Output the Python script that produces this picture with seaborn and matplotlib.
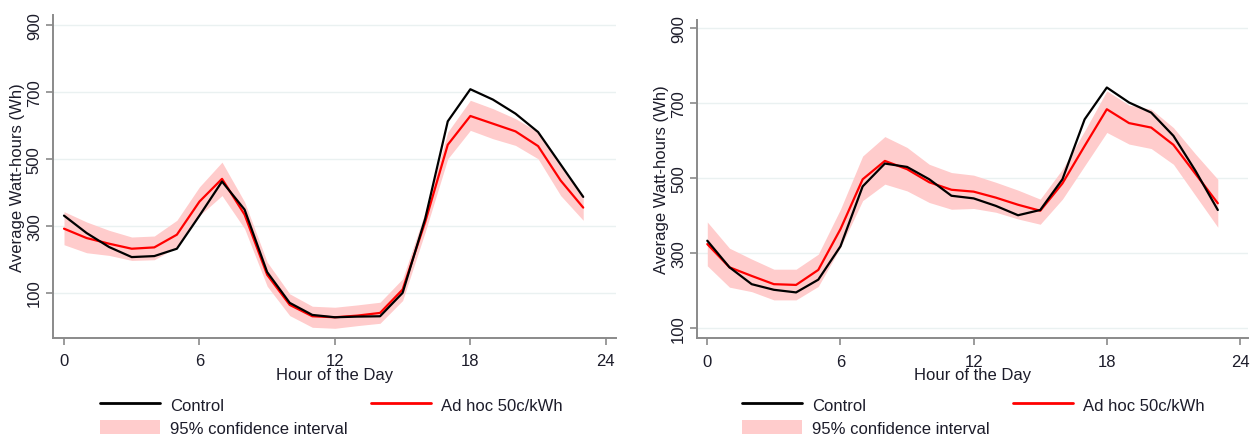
import numpy as np
import pandas as pd
import matplotlib
matplotlib.use("Agg")
import matplotlib.pyplot as plt
import seaborn as sns
from matplotlib.lines import Line2D
from matplotlib.patches import Patch

hours = list(range(24))

# Left panel
left_control = [330, 278, 236, 206, 209, 231, 330, 432, 348, 161, 69, 33, 26, 28, 29, 99,
                321, 612, 708, 677, 635, 580, 483, 386]
left_adhoc = [291, 263, 246, 231, 235, 273, 372, 440, 333, 153, 63, 29, 26, 31, 39, 109,
              311, 542, 628, 605, 582, 538, 435, 354]
left_ci_low = [243, 219, 211, 196, 198, 236, 330, 390, 291, 119, 31, -4, -7, 1, 8, 76,
               281, 500, 585, 560, 540, 500, 390, 316]
left_ci_high = [342, 311, 286, 266, 269, 316, 416, 490, 371, 191, 96, 59, 56, 63, 71, 141,
                341, 580, 675, 650, 620, 580, 480, 392]

# Right panel
right_control = [333, 262, 217, 202, 195, 229, 318, 478, 539, 530, 497, 453, 446, 426, 401, 415,
                 497, 657, 742, 702, 675, 613, 519, 415]
right_adhoc = [324, 262, 239, 217, 215, 255, 364, 497, 546, 524, 489, 469, 464, 448, 429, 413,
               486, 586, 684, 647, 635, 589, 511, 433]
right_ci_low = [266, 209, 197, 175, 175, 211, 315, 440, 484, 466, 435, 417, 419, 409, 391, 377,
                444, 533, 622, 591, 579, 537, 453, 369]
right_ci_high = [383, 313, 284, 257, 257, 297, 417, 559, 611, 582, 537, 515, 508, 489, 468, 444,
                 524, 626, 733, 695, 684, 635, 564, 497]

x_ticks = [0, 6, 12, 18, 24]
y_ticks = [100, 300, 500, 700, 900]
series_names = ["Control", "Ad hoc 50c/kWh"]
ci_label = "95% confidence interval"

sns.set_theme(style="white")
plt.rcParams["font.family"] = ["Liberation Sans", "DejaVu Sans"]

TEXT = "#1c1c2a"
SPINE = "#8a8a8a"
GRID = "#eaf1f1"
CI_COLOR = "#ffcccc"

fig = plt.figure(figsize=(12.5, 4.39), dpi=100)

panels = [
    dict(rect=[53/1250, 1-339/439, (615.5-53)/1250, (339-16)/439],
         xlim=(-0.487, 24.43), ylim=(-36, 930),
         ctrl=left_control, adhoc=left_adhoc, lo=left_ci_low, hi=left_ci_high,
         legx=100/1250, ylab_x=-0.05),
    dict(rect=[697.3/1250, 1-339.3/439, (1248-697.3)/1250, (339.3-20.7)/439],
         xlim=(-0.45, 24.36), ylim=(72.5, 923),
         ctrl=right_control, adhoc=right_adhoc, lo=right_ci_low, hi=right_ci_high,
         legx=742/1250, ylab_x=-0.051),
]

for p in panels:
    ax = fig.add_axes(p["rect"])
    for yt in y_ticks:
        ax.axhline(yt, color=GRID, lw=1.0, zorder=0)
    ax.fill_between(hours, p["lo"], p["hi"], color=CI_COLOR, lw=0, zorder=1)
    df = pd.DataFrame({"hour": hours * 2,
                       "wh": p["ctrl"] + p["adhoc"],
                       "group": [series_names[0]] * 24 + [series_names[1]] * 24})
    sns.lineplot(data=df, x="hour", y="wh", hue="group",
                 palette={series_names[0]: "black", series_names[1]: "#ff0000"},
                 hue_order=series_names[::-1], linewidth=1.6, ax=ax, legend=False, zorder=3)
    ax.set_xlim(*p["xlim"])
    ax.set_ylim(*p["ylim"])
    ax.set_xticks(x_ticks)
    ax.set_yticks(y_ticks)
    ax.set_yticklabels([str(v) for v in y_ticks], rotation=90, va="center")
    ax.tick_params(axis="both", direction="out", length=5, width=1.2, color=SPINE,
                   labelsize=12, labelcolor=TEXT, pad=3, left=True, bottom=True)
    ax.tick_params(axis="x", pad=6)
    for s in ["top", "right"]:
        ax.spines[s].set_visible(False)
    for s in ["left", "bottom"]:
        ax.spines[s].set_color(SPINE)
        ax.spines[s].set_linewidth(1.4)
    ax.set_xlabel("Hour of the Day", fontsize=12, color=TEXT, labelpad=-1)
    ax.set_ylabel("Average Watt-hours (Wh)", fontsize=12, color=TEXT)
    ax.yaxis.set_label_coords(p["ylab_x"], 0.5)

    handles = [Line2D([], [], color="black", lw=2),
               Patch(facecolor=CI_COLOR, edgecolor="none"),
               Line2D([], [], color="#ff0000", lw=2)]
    labels = [series_names[0], ci_label, series_names[1]]
    leg = fig.legend(handles, labels, loc="upper left",
                     bbox_to_anchor=(p["legx"], 1 - 398/439), ncol=2,
                     frameon=False, fontsize=12, handlelength=3.6, handleheight=0.9,
                     handletextpad=0.6, columnspacing=1.4, labelspacing=0.45,
                     borderpad=0, borderaxespad=0)
    for t in leg.get_texts():
        t.set_color(TEXT)

fig.savefig("out.png", dpi=100)
